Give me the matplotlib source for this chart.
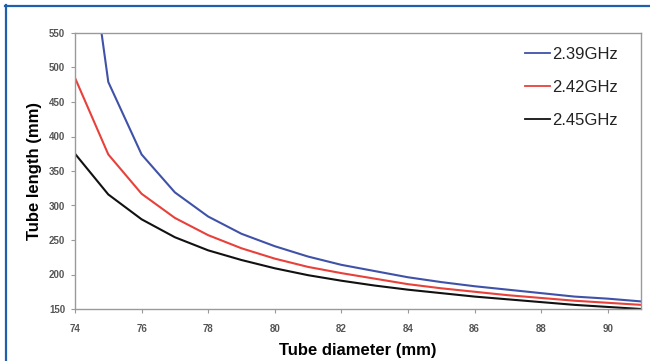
import matplotlib
matplotlib.use("Agg")
import matplotlib.pyplot as plt
from matplotlib.lines import Line2D

plt.rcParams['font.family'] = ['Liberation Sans', 'DejaVu Sans']

diameter = [74, 75, 76, 77, 78, 79, 80, 81, 82, 83, 84, 85, 86, 87, 88, 89, 90, 91]
len_239 = [829, 479, 374, 319, 284, 259, 241, 226, 214, 205, 196, 189, 183, 178, 173, 168, 165, 161]
len_242 = [485, 374, 317, 282, 257, 238, 223, 211, 202, 194, 186, 180, 175, 170, 166, 162, 159, 156]
len_245 = [375, 316, 280, 254, 235, 221, 209, 199, 191, 184, 178, 173, 168, 164, 160, 156, 153, 150]
series_labels = ['2.39GHz', '2.42GHz', '2.45GHz']
series_colors = ['#3f52a8', '#e8403a', '#111111']
x_ticks = [74, 76, 78, 80, 82, 84, 86, 88, 90]
y_ticks = [150, 200, 250, 300, 350, 400, 450, 500, 550]

fig = plt.figure(figsize=(6.5, 3.61), dpi=100)
ax = fig.add_axes([75/650, 1-309/361, (641-75)/650, (309-33)/361])

for vals, lab, col in zip([len_239, len_242, len_245], series_labels, series_colors):
    ax.plot(diameter, vals, color=col, lw=1.5, label=lab, clip_on=True)

ax.set_xlim(74, 91)
ax.set_ylim(150, 550)
ax.set_xticks(x_ticks)
ax.set_yticks(y_ticks)
ax.tick_params(axis='both', labelsize=7, labelcolor='#555555', color='#999999',
               length=3, width=0.8, direction='out')
ax.tick_params(axis='x', pad=8)
ax.tick_params(axis='y', pad=4)
for lbl in ax.get_xticklabels() + ax.get_yticklabels():
    lbl.set_fontweight('bold')
for sp in ax.spines.values():
    sp.set_color('#9a9a9a')
    sp.set_linewidth(1.0)

ax.set_xlabel('Tube diameter (mm)', fontsize=12, fontweight='bold', labelpad=6)
ax.set_ylabel('Tube length (mm)', fontsize=12, fontweight='bold')
ax.yaxis.set_label_coords((42 - 75) / 566, 0.5)

leg = ax.legend(loc='upper right', bbox_to_anchor=(0.985, 1.005), frameon=False,
                fontsize=12, handlelength=1.5, handletextpad=0.1,
                labelspacing=1.1)
for t in leg.get_texts():
    t.set_color('#222222')
for h in leg.get_lines():
    h.set_linewidth(1.3)

# blue frame (top and left edges visible)
fig.add_artist(Line2D([6/650, 6/650], [0, 1-5/361], transform=fig.transFigure,
                      color='#1f5fae', lw=1.6))
fig.add_artist(Line2D([5/650, 1], [1-6/361, 1-6/361], transform=fig.transFigure,
                      color='#1f5fae', lw=1.6))

fig.savefig('out.png', dpi=100)
